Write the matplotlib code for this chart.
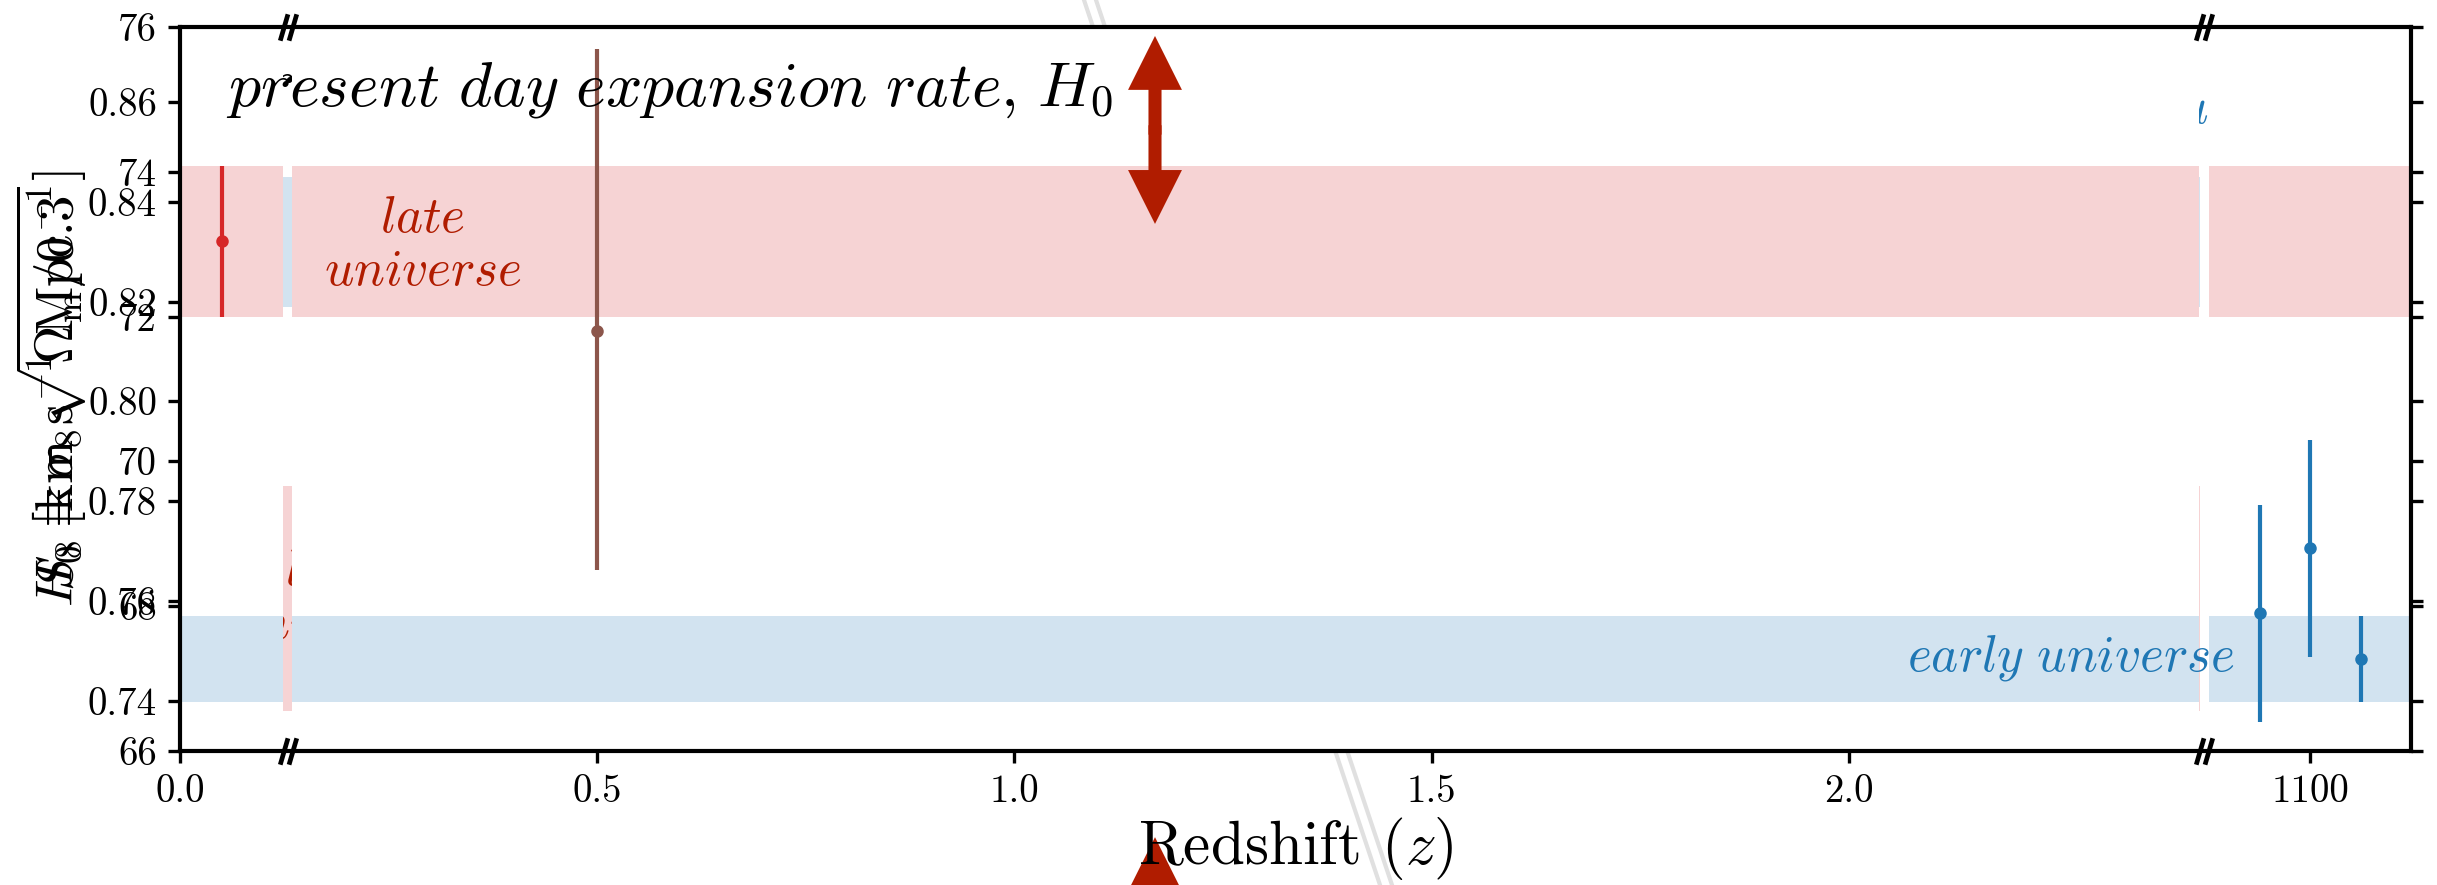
import matplotlib.pyplot as plt
from matplotlib.lines import Line2D
from matplotlib.path import Path

plt.rcParams['font.family'] = 'serif'
plt.rcParams['font.serif'] = ['cmr10', 'DejaVu Serif']
plt.rcParams['mathtext.fontset'] = 'cm'
plt.rcParams['axes.formatter.use_mathtext'] = True

# H0 measurements (km/s/Mpc)
late_z = [0.05]
late_h0 = [73.04]
late_err = [1.04]
mid_z = [0.5]
mid_h0 = [71.8]
mid_err_lo = [3.3]
mid_err_hi = [3.9]
cmb_z = [1090, 1100, 1110]
cmb_h0 = [67.9, 68.8, 67.27]
cmb_err = [1.5, 1.5, 0.6]

# shaded bands
h0_late_band = (72.0, 74.08)
h0_early_band = (66.67, 67.87)
s8_late_band = (0.738, 0.783)
s8_early_band = (0.819, 0.845)

h0_ticks = [66, 68, 70, 72, 74, 76]
s8_ticks = [0.74, 0.76, 0.78, 0.80, 0.82, 0.84, 0.86]
z_ticks = [[0.0], [0.5, 1.0, 1.5, 2.0], [1100]]
z_labels = [['0.0'], ['0.5', '1.0', '1.5', '2.0'], ['1100']]
z_lims = [(0, 0.1235), (0.134, 2.42), (1080, 1120)]

RED = '#b01c00'
W, H, DPI = 2437, 885, 200
TOP, BOT = 27, 751
FRAME = (180, 2411)
PANELS = [(180, 283), (292, 2199), (2209, 2411)]


def rect(x0, x1):
    return [x0 / W, 1 - BOT / H, (x1 - x0) / W, (BOT - TOP) / H]


def fx(px):
    # pixel -> frame axes fraction
    return (px - FRAME[0]) / (FRAME[1] - FRAME[0])


def double_arrow(ax, x, y0, y1):
    ym = (y0 + y1) / 2
    style = 'simple,head_length=19.4,head_width=19.4,tail_width=4.7'
    for tip in (y0, y1):
        ax.annotate('', xy=(x, tip), xytext=(x, ym - (tip - ym) * 0.05),
                    xycoords='axes fraction', textcoords='axes fraction',
                    annotation_clip=False,
                    arrowprops=dict(arrowstyle=style, color=RED, lw=0,
                                    shrinkA=0, shrinkB=0, mutation_scale=1))


tick_kw = dict(direction='out', length=4.3, width=1.2, labelsize=14, pad=4)

fig = plt.figure(figsize=(W / DPI, H / DPI), dpi=DPI)

# faint diagonal break lines behind everything
for dx in (0, 12):
    fig.add_artist(Line2D([(1084 + dx) / W, (1380 + dx) / W], [1, 0],
                          transform=fig.transFigure, color='0.88', lw=1.5, zorder=-1))

# S8 layer (underneath)
ax8 = fig.add_axes(rect(*FRAME), zorder=0)
ax8.set_xlim(0, 1)
ax8.set_ylim(0.73, 0.875)
for s in ax8.spines.values():
    s.set_visible(False)
ax8.set_xticks([])
ax8.set_yticks(s8_ticks)
ax8.set_yticklabels([f'{v:.2f}' for v in s8_ticks])
ax8.tick_params(axis='y', left=True, right=True, **tick_kw)
cut = fx(2200)
ax8.axhspan(*s8_late_band, xmax=cut, color='tab:red', alpha=0.2, lw=0)
ax8.axhspan(*s8_early_band, xmax=cut, color='tab:blue', alpha=0.2, lw=0)
ax8.text(fx(230), 0.897, r'$\mathit{present\ day\ clustering\ amplitude{,}}\ S_8$', fontsize=23,
         ha='left', va='baseline', transform=ax8.transAxes)
ax8.text(fx(328), 0.211, '$\\mathit{late}$\n$\\mathit{universe}$', color=RED,
         fontsize=18.5, ha='center', va='center', transform=ax8.transAxes)
ax8.text(fx(2377), 0.885, r'$\mathit{early\ universe}$', color='tab:blue',
         fontsize=18.5, ha='right', va='center', transform=ax8.transAxes)
ax8.set_ylabel(r'$S_8 \equiv \sigma_8\sqrt{\Omega_{\rm m}/0.3}$', fontsize=19)
ax8.yaxis.set_label_coords(-0.041, 0.5)
double_arrow(ax8, fx(1155), -0.119, -0.379)

# H0 panels (broken x axis)
for (x0, x1), lim, ticks, labels in zip(PANELS, z_lims, z_ticks, z_labels):
    ax = fig.add_axes(rect(x0, x1), zorder=1)
    ax.set_facecolor('white')
    ax.set_xlim(lim)
    ax.set_ylim(66, 76)
    for s in ax.spines.values():
        s.set_visible(False)
    ax.set_yticks([])
    ax.set_xticks(ticks)
    ax.set_xticklabels(labels)
    ax.tick_params(axis='x', **tick_kw)
    ax.axhspan(*h0_late_band, color='tab:red', alpha=0.2, lw=0)
    ax.axhspan(*h0_early_band, color='tab:blue', alpha=0.2, lw=0)
    ax.errorbar(late_z, late_h0, yerr=late_err, fmt='o', color='tab:red', ms=3.5, elinewidth=1.5)
    ax.errorbar(mid_z, mid_h0, yerr=[mid_err_lo, mid_err_hi], fmt='o', color='tab:brown',
                ms=3.5, elinewidth=1.5)
    ax.errorbar(cmb_z, cmb_h0, yerr=cmb_err, fmt='o', color='tab:blue', ms=3.5, elinewidth=1.5)

# frame on top
ax = fig.add_axes(rect(*FRAME), zorder=2)
ax.patch.set_visible(False)
ax.set_xlim(0, 1)
ax.set_ylim(66, 76)
for s in ax.spines.values():
    s.set_linewidth(1.5)
ax.set_xticks([])
ax.set_yticks(h0_ticks)
ax.set_yticklabels([str(v) for v in h0_ticks])
ax.tick_params(axis='y', left=True, right=True, **tick_kw)
ax.set_ylabel(r'$H_0\ [\mathrm{km\ s^{-1}\ Mpc^{-1}}]$', fontsize=19)
ax.yaxis.set_label_coords(-0.041, 0.5)
ax.set_xlabel(r'Redshift $(z)$', fontsize=22)
ax.xaxis.set_label_coords(0.5, -0.088)

ax.text(fx(226), 0.892, r'$\mathit{present\ day\ expansion\ rate{,}}\ H_0$', fontsize=23,
        ha='left', va='baseline', transform=ax.transAxes)
ax.text(fx(423), 0.6975, '$\\mathit{late}$\n$\\mathit{universe}$', color=RED,
        fontsize=18.5, ha='center', va='center', transform=ax.transAxes)
ax.text(fx(2235), 0.128, r'$\mathit{early\ universe}$', color='tab:blue',
        fontsize=18.5, ha='right', va='center', transform=ax.transAxes)
double_arrow(ax, fx(1155), 0.9876, 0.728)

# break marks //
slash = Path([(-7.5, -12), (-0.5, 12), (0.5, -12), (7.5, 12)],
             [Path.MOVETO, Path.LINETO, Path.MOVETO, Path.LINETO])
gaps = [fx((PANELS[0][1] + PANELS[1][0]) / 2 + 0.5), fx((PANELS[1][1] + PANELS[2][0]) / 2)]
for yb in (0, 1):
    ax.plot(gaps, [yb, yb], transform=ax.transAxes, ls='none', marker=slash,
            ms=9.5, mew=1.7, mec='k', mfc='none', clip_on=False, zorder=5)

fig.savefig('out.png', dpi=DPI)
